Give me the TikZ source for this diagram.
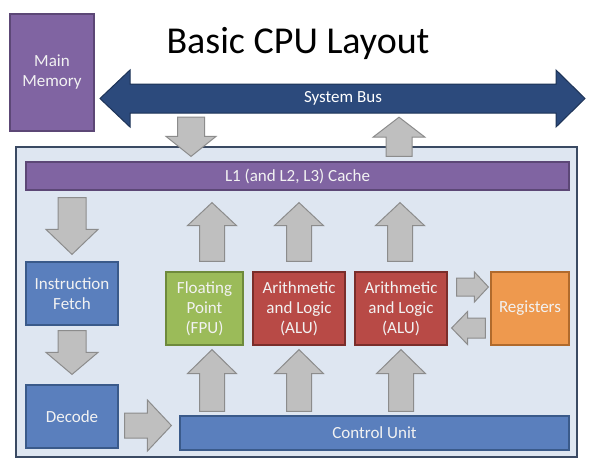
\documentclass[tikz,border=0pt]{standalone}
\usepackage{fontspec}
\setmainfont{Carlito}
\usetikzlibrary{calc}
\definecolor{memfill}{HTML}{8064A2}
\definecolor{memdraw}{HTML}{5C4776}
\definecolor{busfill}{HTML}{2C4A7C}
\definecolor{busdraw}{HTML}{1D3357}
\definecolor{cpufill}{HTML}{DEE6F1}
\definecolor{cpudraw}{HTML}{3A4A63}
\definecolor{bluefill}{HTML}{5A7FBD}
\definecolor{bluedraw}{HTML}{3A5A8A}
\definecolor{greenfill}{HTML}{9BBB59}
\definecolor{greendraw}{HTML}{6E8A3C}
\definecolor{redfill}{HTML}{B84A46}
\definecolor{reddraw}{HTML}{7A2E2B}
\definecolor{orangefill}{HTML}{EE994E}
\definecolor{orangedraw}{HTML}{B06A2C}
\definecolor{grayfill}{HTML}{BFBFBF}
\definecolor{graydraw}{HTML}{8C8C8C}
\definecolor{boxtext}{HTML}{F2F2F2}
\tikzset{
  unit/.style={draw, line width=1.2pt, rectangle, inner sep=0pt, align=center,
    text=boxtext, font=\fontsize{17}{20}\selectfont},
  purplebox/.style={unit, fill=memfill, draw=memdraw},
  bluebox/.style={unit, fill=bluefill, draw=bluedraw},
  greenbox/.style={unit, fill=greenfill, draw=greendraw},
  redbox/.style={unit, fill=redfill, draw=reddraw},
  orangebox/.style={unit, fill=orangefill, draw=orangedraw},
  grayarrow/.style={fill=grayfill, draw=graydraw, line width=1pt, line join=miter},
}
% block arrow: #1 start, #2 tip, #3 shaft half width, #4 head half width, #5 head length
\newcommand\blockarr[5]{%
  \coordinate (ba-s) at #1;
  \coordinate (ba-t) at #2;
  \coordinate (ba-c) at ($(ba-t)!#5!(ba-s)$);
  \draw[grayarrow] ($(ba-s)!#3!90:(ba-t)$) -- ($(ba-c)!#3!90:(ba-t)$)
    -- ($(ba-c)!#4!90:(ba-t)$) -- (ba-t) -- ($(ba-c)!#4!-90:(ba-t)$)
    -- ($(ba-c)!#3!-90:(ba-t)$) -- ($(ba-s)!#3!-90:(ba-t)$) -- cycle;
}
\begin{document}
\begin{tikzpicture}[x=1pt,y=-1pt]
\useasboundingbox (0,0) rectangle (593,459);
\fill[white] (0,0) rectangle (593,459);

% title
\node[font=\fontsize{38}{44}\selectfont] (title) at (298,43) {Basic CPU Layout};

% main memory
\node[purplebox, minimum width=84pt, minimum height=117pt] (mem) at (52,72.5) {Main\\Memory};

% system bus
\fill[busfill, draw=busdraw, line width=1pt] (100,98.5) -- (130,70) -- (130,84) -- (556,84)
  -- (556,70) -- (585,98.5) -- (556,127) -- (556,113) -- (130,113) -- (130,127) -- cycle;
\node[minimum width=426pt, minimum height=29pt, inner sep=0pt, text=white,
  font=\fontsize{17}{20}\selectfont] (bus) at (343,98.5) {System Bus};

% CPU box
\node[draw=cpudraw, fill=cpufill, line width=1.2pt, minimum width=561pt, minimum height=310pt, inner sep=0pt] (cpu) at (296.5,302) {};

% cache
\node[purplebox, minimum width=543pt, minimum height=28pt] (cache) at (297.5,176) {L1 (and L2, L3) Cache};

% units
\node[bluebox, minimum width=92pt, minimum height=63pt] (fetch) at (72,293.5) {Instruction\\Fetch};
\node[bluebox, minimum width=92pt, minimum height=63pt] (decode) at (72,416.5) {Decode};
\node[bluebox, minimum width=389pt, minimum height=34pt] (ctrl) at (374.5,433) {Control Unit};
\node[greenbox, minimum width=77pt, minimum height=73pt] (fpu) at (204.5,308.5) {Floating\\Point\\(FPU)};
\node[redbox, minimum width=92pt, minimum height=73pt] (alu1) at (299,308.5) {Arithmetic\\and Logic\\(ALU)};
\node[redbox, minimum width=92pt, minimum height=73pt] (alu2) at (401,308.5) {Arithmetic\\and Logic\\(ALU)};
\node[orangebox, minimum width=78pt, minimum height=73pt] (regs) at (530,308.5) {Registers};

% gray block arrows
\blockarr{($(bus.south)+(-152,4)$)}{($(cache.north)+(-106.5,-5)$)}{13.5pt}{25pt}{20pt}
\blockarr{($(cache.north)+(101.5,-5)$)}{($(bus.south)+(56,4)$)}{13pt}{26pt}{20pt}
\blockarr{($(fetch.north |- cache.south)+(0,7)$)}{($(fetch.north)+(0,-7)$)}{14pt}{26pt}{25pt}
\blockarr{($(fetch.south)+(0,5)$)}{($(decode.north)+(0,-10)$)}{14pt}{26pt}{22pt}
\blockarr{($(decode.east)+(6,9)$)}{($(ctrl.west)+(-8,-7.5)$)}{12.5pt}{25.5pt}{24pt}
\blockarr{($(fpu.north)+(7.5,-10)$)}{($(fpu.north |- cache.south)+(7.5,12)$)}{12.5pt}{24.5pt}{23pt}
\blockarr{($(alu1.north)+(0,-10)$)}{($(alu1.north |- cache.south)+(0,12)$)}{12.5pt}{24.5pt}{23pt}
\blockarr{($(alu2.north)+(-1,-10)$)}{($(alu2.north |- cache.south)+(-1,12)$)}{12.5pt}{24.5pt}{23pt}
\blockarr{($(fpu.south |- ctrl.north)+(7.5,-4)$)}{($(fpu.south)+(7.5,4)$)}{12.5pt}{24.5pt}{24pt}
\blockarr{($(alu1.south |- ctrl.north)+(0,-4)$)}{($(alu1.south)+(0,4)$)}{12.5pt}{24.5pt}{24pt}
\blockarr{($(alu2.south |- ctrl.north)+(0,-4)$)}{($(alu2.south)+(0,4)$)}{12.5pt}{24.5pt}{24pt}
\blockarr{($(alu2.east)+(9,-21.5)$)}{($(regs.west)+(-2,-21.5)$)}{9pt}{15pt}{14pt}
\blockarr{($(regs.west)+(-5,19.5)$)}{($(alu2.east)+(4,19.5)$)}{10pt}{16.5pt}{16pt}
\end{tikzpicture}
\end{document}
